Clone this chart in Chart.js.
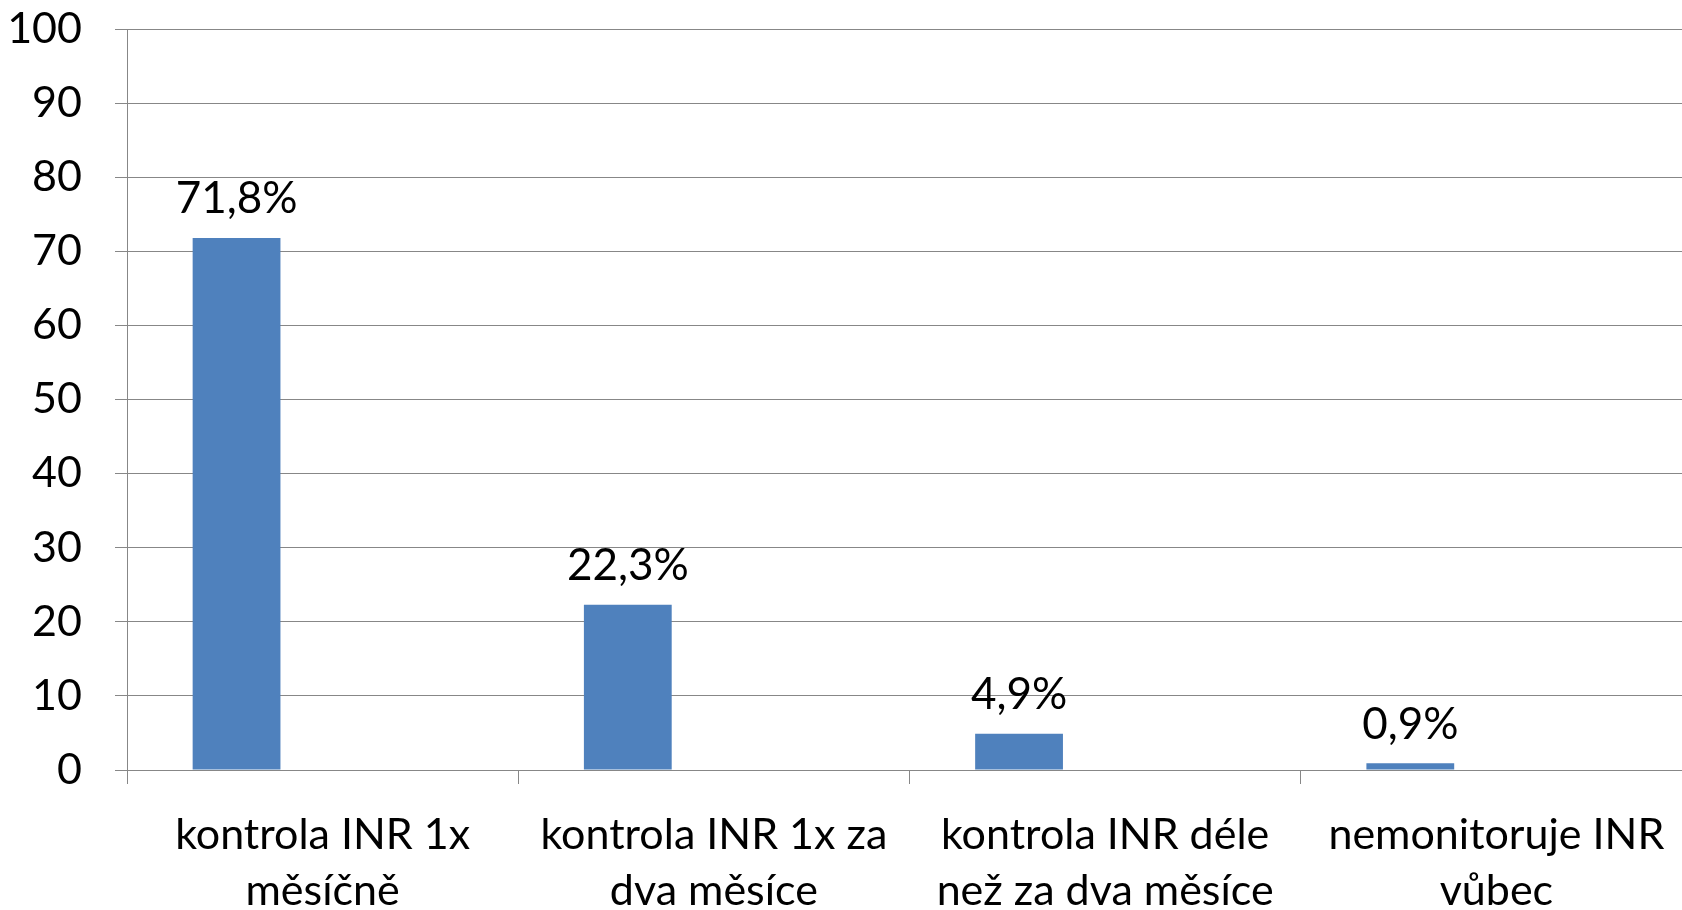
<!DOCTYPE html>
<html>
<head>
<meta charset="utf-8">
<script src="https://cdn.jsdelivr.net/npm/chart.js@4"></script>
<style>
  body { margin: 0; background: #fff; overflow: hidden; }
</style>
</head>
<body>
<canvas id="myChart" width="1692" height="910"></canvas>
<script>
// chart data
const categories = [
  ["kontrola INR 1x", "měsíčně"],
  ["kontrola INR 1x za", "dva měsíce"],
  ["kontrola INR déle", "než za dva měsíce"],
  ["nemonitoruje INR", "vůbec"],
];
const values = [71.8, 22.3, 4.9, 0.9];
const valueLabels = ["71,8%", "22,3%", "4,9%", "0,9%"];
const emptySeries = [null, null, null, null];
const yTicks = [0, 10, 20, 30, 40, 50, 60, 70, 80, 90, 100];

const gridGrey = "#878787";
const fontFamily = "Lato, 'Open Sans', sans-serif";

// draws the value above each bar
const valueLabelPlugin = {
  id: "valueLabels",
  afterDatasetsDraw(chart) {
    const c = chart.ctx;
    const meta = chart.getDatasetMeta(0);
    c.save();
    c.font = "44px " + fontFamily;
    c.fillStyle = "#000";
    c.textAlign = "center";
    c.textBaseline = "middle";
    meta.data.forEach((bar, i) => {
      c.fillText(valueLabels[i], bar.x, bar.y - 39);
    });
    c.restore();
  },
};

const ctx = document.getElementById("myChart").getContext("2d");
new Chart(ctx, {
  type: "bar",
  data: {
    labels: categories,
    datasets: [
      {
        label: "INR",
        data: values,
        backgroundColor: "#4F81BD",
        categoryPercentage: 0.88,
        barPercentage: 0.51,
      },
      {
        label: "",
        data: emptySeries,
        backgroundColor: "#C0504D",
        categoryPercentage: 0.88,
        barPercentage: 0.51,
      },
    ],
  },
  options: {
    responsive: false,
    animation: false,
    layout: { padding: { top: 29, left: 0, right: 0, bottom: 0 } },
    plugins: {
      legend: { display: false },
      title: { display: false },
      tooltip: { enabled: false },
    },
    scales: {
      x: {
        afterFit: (scale) => {
          scale.height = 140;
          scale.paddingLeft = 0;
          scale.paddingRight = 0;
        },
        grid: {
          offset: true,
          drawOnChartArea: false,
          drawTicks: true,
          tickLength: 14,
          color: gridGrey,
        },
        border: { color: gridGrey },
        ticks: {
          color: "#000",
          font: { family: fontFamily, size: 43, lineHeight: 1.3 },
          padding: 23,
          maxRotation: 0,
          autoSkip: false,
        },
      },
      y: {
        min: 0,
        max: 100,
        afterFit: (scale) => {
          scale.width = 127;
          scale.paddingTop = 0;
          scale.paddingBottom = 0;
        },
        afterBuildTicks: (scale) => {
          scale.ticks = yTicks.map((v) => ({ value: v }));
        },
        grid: { color: gridGrey, tickLength: 12 },
        border: { color: gridGrey },
        ticks: {
          color: "#000",
          font: { family: fontFamily, size: 43 },
          padding: 33,
        },
      },
    },
  },
  plugins: [valueLabelPlugin],
});
</script>
</body>
</html>
